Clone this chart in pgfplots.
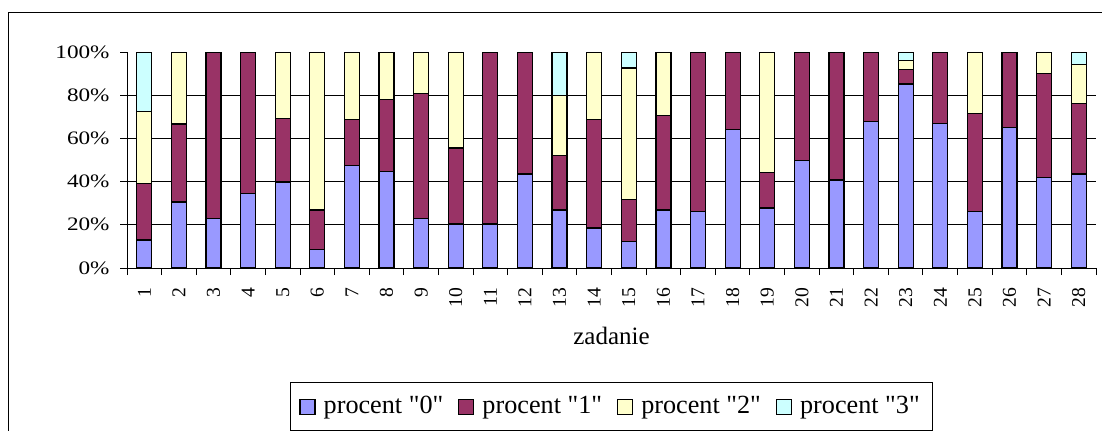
\documentclass[border=0pt]{standalone}
\usepackage{pgfplots}
\pgfplotsset{compat=1.18}
\usepackage{fontspec}
\setmainfont{Liberation Serif}[Ligatures=TeXOff]
\definecolor{cA}{HTML}{9999FF}
\definecolor{cB}{HTML}{993366}
\definecolor{cC}{HTML}{FFFFCC}
\definecolor{cD}{HTML}{CCFFFF}
\begin{document}
\begin{tikzpicture}
\path[use as bounding box, clip] (0,0) rectangle (551pt,215pt);
\draw[black, line width=0.5pt] (4pt,-10pt) -- (4pt,209pt) -- (560pt,209pt);
\begin{axis}[
  at={(63.5pt,81pt)}, anchor=south west,
  scale only axis, width=484.5pt, height=108pt,
  ybar stacked, bar width=7.5pt,
  xmin=0.5, xmax=28.5, ymin=0, ymax=100,
  axis x line*=bottom, axis y line*=left,
  x axis line style={-, black, line width=0.5pt},
  y axis line style={-, black, line width=0.5pt},
  tick align=outside, major tick length=3.5pt,
  tick style={black, line width=0.5pt},
  xtick={0.5,1.5,...,28.5},
  x tick label as interval,
  xticklabels={1,2,3,4,5,6,7,8,9,10,11,12,13,14,15,16,17,18,19,20,21,22,23,24,25,26,27,28},
  xticklabel style={rotate=90, anchor=east, inner sep=0pt, xshift=-6pt, font=\fontsize{9.8}{10}\selectfont},
  ytick={0,20,40,60,80,100},
  yticklabels={0\%,20\%,40\%,60\%,80\%,100\%},
  yticklabel style={anchor=east, inner sep=0pt, xshift=-5pt, xscale=1.22, font=\fontsize{9.5}{10}\selectfont},
  extra y ticks={20,40,60,80},
  extra y tick labels={},
  extra y tick style={grid=major, major tick length=0pt},
  major grid style={black, line width=0.5pt},
  xlabel={zadanie},
  xlabel style={at={(axis description cs:0.5,-0.352)}, anchor=base, inner sep=0pt, font=\fontsize{12.5}{14}\selectfont},
  every axis plot/.append style={draw=black, line width=0.6pt},
  legend columns=4,
  legend style={at={(axis description cs:0.1682,-0.5278)}, anchor=north west,
    draw=black, line width=0.5pt, font=\fontsize{13.1}{14}\selectfont,
    inner xsep=4.5pt, inner ysep=5pt,
    /tikz/every even column/.append style={column sep=5.5pt},
    /tikz/every odd column/.append style={column sep=2pt}},
  legend image code/.code={\draw[#1, line width=0.6pt] (0pt,-3.75pt) rectangle (7.5pt,3.75pt);},
]
\addplot[fill=cA] coordinates {(1,13) (2,30.6) (3,23.1) (4,34.4) (5,39.8) (6,8.5) (7,47.4) (8,44.6) (9,23.1) (10,20.4) (11,20.4) (12,43.5) (13,26.9) (14,18.5) (15,12.2) (16,26.9) (17,26.1) (18,64.0) (19,27.8) (20,49.8) (21,40.7) (22,67.7) (23,85.2) (24,66.8) (25,26.1) (26,65.0) (27,41.8) (28,43.5)};
\addplot[fill=cB] coordinates {(1,26) (2,36.1) (3,76.9) (4,65.6) (5,29.6) (6,18.4) (7,21.3) (8,33.3) (9,57.6) (10,35.2) (11,79.6) (12,56.5) (13,25.1) (14,50.2) (15,19.4) (16,43.6) (17,73.9) (18,36.0) (19,16.6) (20,50.2) (21,59.3) (22,32.3) (23,6.6) (24,33.2) (25,45.4) (26,35.0) (27,48.3) (28,32.6)};
\addplot[fill=cC] coordinates {(1,33.5) (2,33.3) (3,0) (4,0) (5,30.6) (6,73.1) (7,31.3) (8,22.1) (9,19.3) (10,44.4) (11,0) (12,0) (13,27.8) (14,31.3) (15,61.0) (16,29.5) (17,0) (18,0) (19,55.6) (20,0) (21,0) (22,0) (23,4.3) (24,0) (25,28.5) (26,0) (27,9.9) (28,18.3)};
\addplot[fill=cD] coordinates {(1,27.5) (2,0) (3,0) (4,0) (5,0) (6,0) (7,0) (8,0) (9,0) (10,0) (11,0) (12,0) (13,20.2) (14,0) (15,7.4) (16,0) (17,0) (18,0) (19,0) (20,0) (21,0) (22,0) (23,3.9) (24,0) (25,0) (26,0) (27,0) (28,5.6)};
\legend{procent "0",procent "1",procent "2",procent "3"}
\end{axis}
\end{tikzpicture}
\end{document}
